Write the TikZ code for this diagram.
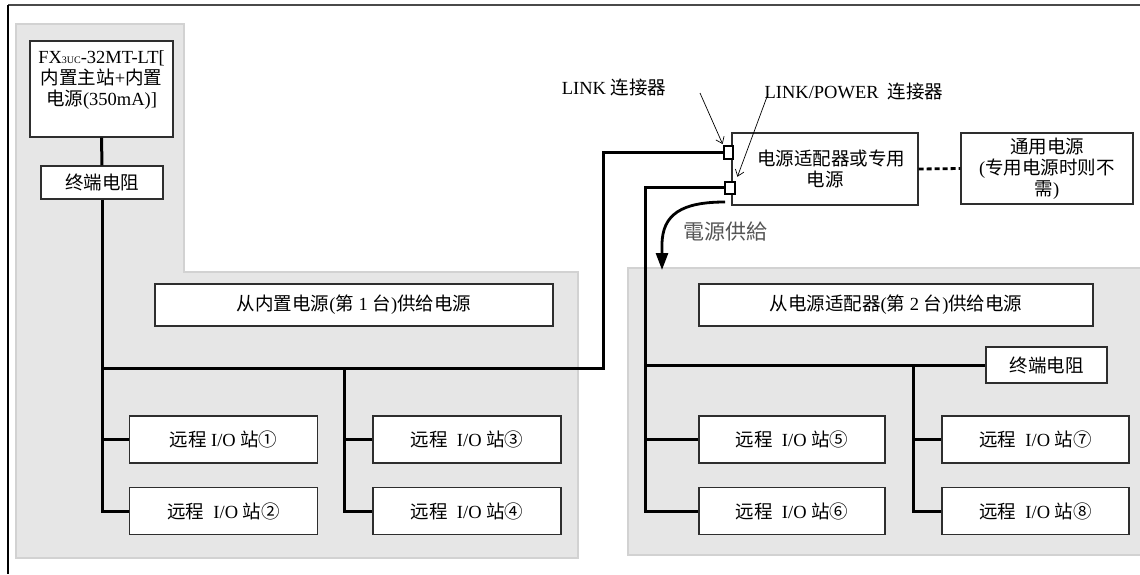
\documentclass[tikz,border=0pt]{standalone}
\usepackage{fontspec}
\setmainfont{Liberation Serif}
\newfontfamily\cjk{Noto Sans CJK SC}
\usetikzlibrary{arrows.meta}
\definecolor{regionfill}{HTML}{E6E6E6}
\definecolor{regionline}{HTML}{D2D2D2}
\definecolor{boxline}{HTML}{2E2E2E}
\definecolor{framec}{HTML}{4A4A4A}
\definecolor{pwrtext}{HTML}{555555}
\newcommand\zh[1]{{\cjk #1}}
\begin{document}
\begin{tikzpicture}[x=1pt,y=-1pt,
  region/.style={fill=regionfill, draw=regionline, line width=1.2pt},
  box/.style={draw=boxline, line width=1.3pt, fill=white, inner sep=0pt,
    font=\fontsize{18.5}{21}\selectfont, align=center},
  iobox/.style={box, minimum width=188pt, minimum height=47pt},
  conn/.style={draw=black, line width=2pt, fill=white, inner sep=0pt, minimum width=9pt, minimum height=13pt},
  bus/.style={draw=black, line width=3pt},
  ptr/.style={draw=black, line width=0.7pt, -{Straight Barb[length=6pt,width=9pt]}},
  pwr/.style={draw=black, line width=2.8pt, -{Triangle[length=17pt,width=12pt]}},
  frameline/.style={draw=framec, line width=1.6pt},
  lbl/.style={font=\fontsize{18.5}{21}\selectfont, inner sep=0pt}
]
\useasboundingbox (0,0) rectangle (1140,574);

% outer frame
\draw[frameline] (8,5) -- (1140,5);
\draw[draw=black, line width=1.2pt] (8,5) -- (8,574);

% shaded regions
\draw[region] (16,24) -- (184,24) -- (184,272) -- (578,272) -- (578,558) -- (16,558) -- cycle;
\draw[region] (1141,268) -- (628,268) -- (628,555) -- (1141,555);

% nodes left
\node[box, minimum width=143pt, minimum height=96pt] (fx) at (101.5,89)
  {FX{\fontsize{10}{10}\selectfont 3UC}-32MT-LT[\\\zh{内置主站}+\zh{内置}\\\zh{电源}(350mA)]\\\mbox{}};
\node[box, minimum width=122pt, minimum height=33pt] (term1) at (102,182.5) {\zh{终端电阻}};
\node[box, minimum width=398pt, minimum height=42pt] (sup1) at (354,305) {\zh{从内置电源}(\zh{第} 1 \zh{台})\zh{供给电源}};
\node[iobox] (io1) at (223.5,439.5) {\zh{远程} I/O \zh{站①}};
\node[iobox] (io2) at (223.5,511) {\zh{远程}\ \ I/O \zh{站②}};
\node[iobox] (io3) at (467,439.5) {\zh{远程}\ \ I/O \zh{站③}};
\node[iobox] (io4) at (467,511) {\zh{远程}\ \ I/O \zh{站④}};

% nodes right
\node[box, minimum width=186pt, minimum height=72pt] (adapter) at (825,169)
  {\hspace*{12pt}\zh{电源适配器或专用}\\\zh{电源}};
\node[box, minimum width=172pt, minimum height=71pt] (gen) at (1047,168.5)
  {\zh{通用电源}\\(\zh{专用电源时则不}\\\zh{需})};
\node[box, minimum width=394pt, minimum height=42pt] (sup2) at (896,305) {\zh{从电源适配器}(\zh{第} 2 \zh{台})\zh{供给电源}};
\node[box, minimum width=121pt, minimum height=36pt] (term2) at (1046.5,365) {\zh{终端电阻}};
\node[iobox, minimum width=186pt] (io5) at (792,439.5) {\zh{远程}\ \ I/O \zh{站⑤}};
\node[iobox, minimum width=186pt] (io6) at (792,511) {\zh{远程}\ \ I/O \zh{站⑥}};
\node[iobox, minimum width=187pt] (io7) at (1035.5,439.5) {\zh{远程}\ \ I/O \zh{站⑦}};
\node[iobox, minimum width=187pt] (io8) at (1035.5,511) {\zh{远程}\ \ I/O \zh{站⑧}};

% junction coordinates
\coordinate (j1) at (102,368);
\coordinate (j2) at (344,368);
\coordinate (turn1) at (603,368);
\coordinate (j3) at (645,365);
\coordinate (j4) at (913,365);

% connectors (on adapter left edge)
\node[conn] (conn1) at (728.5,152.5) {};
\node[conn, minimum width=10pt, minimum height=12pt] (conn2) at (730,187.5) {};

% left bus
\draw[bus] (fx.south) -- (term1.north);
\draw[bus] (term1.south) |- (io2.west);
\draw[bus] (term1.south |- io1.west) -- (io1.west);
\draw[bus] (j1) -- (turn1) |- (conn1.west);
\draw[bus] (j2) |- (io4.west);
\draw[bus] (j2 |- io3.west) -- (io3.west);

% right bus
\draw[bus] (conn2.west) -| (j3 |- io6.west) -- (io6.west);
\draw[bus] (j3 |- io5.west) -- (io5.west);
\draw[bus] (j3) -- (term2.west);
\draw[bus] (j4) |- (io8.west);
\draw[bus] (j4 |- io7.west) -- (io7.west);

% redraw connectors on top
\node[conn] at (conn1) {};
\node[conn, minimum width=10pt, minimum height=12pt] at (conn2) {};

% dashed link to general power supply
\draw[draw=black, line width=2.8pt, dash pattern=on 5pt off 3pt] (adapter.east) -- (gen.west);

% labels and pointers
\node[lbl] (linklbl) at (614,87) {LINK \zh{连接器}};
\node[lbl] (lplbl) at (854,91) {LINK/POWER\ \ \zh{连接器}};
\coordinate (p1) at (700,93);
\coordinate (p2) at (768,94);
\draw[ptr, shorten >=1pt] (p1) -- (conn1.north west);
\draw[ptr, shorten >=4pt] (p2) -- (conn2.north east);

% power supply arrow
\coordinate (ps) at (725,202);
\coordinate (pe) at (662,270);
\draw[pwr] (ps) .. controls (682,202) and (662,214) .. (662,245) -- (pe);
\node[font=\cjk\fontsize{21}{22}\selectfont, text=pwrtext, inner sep=0pt] (pwrlbl) at (725,232) {電源供給};
\end{tikzpicture}
\end{document}
